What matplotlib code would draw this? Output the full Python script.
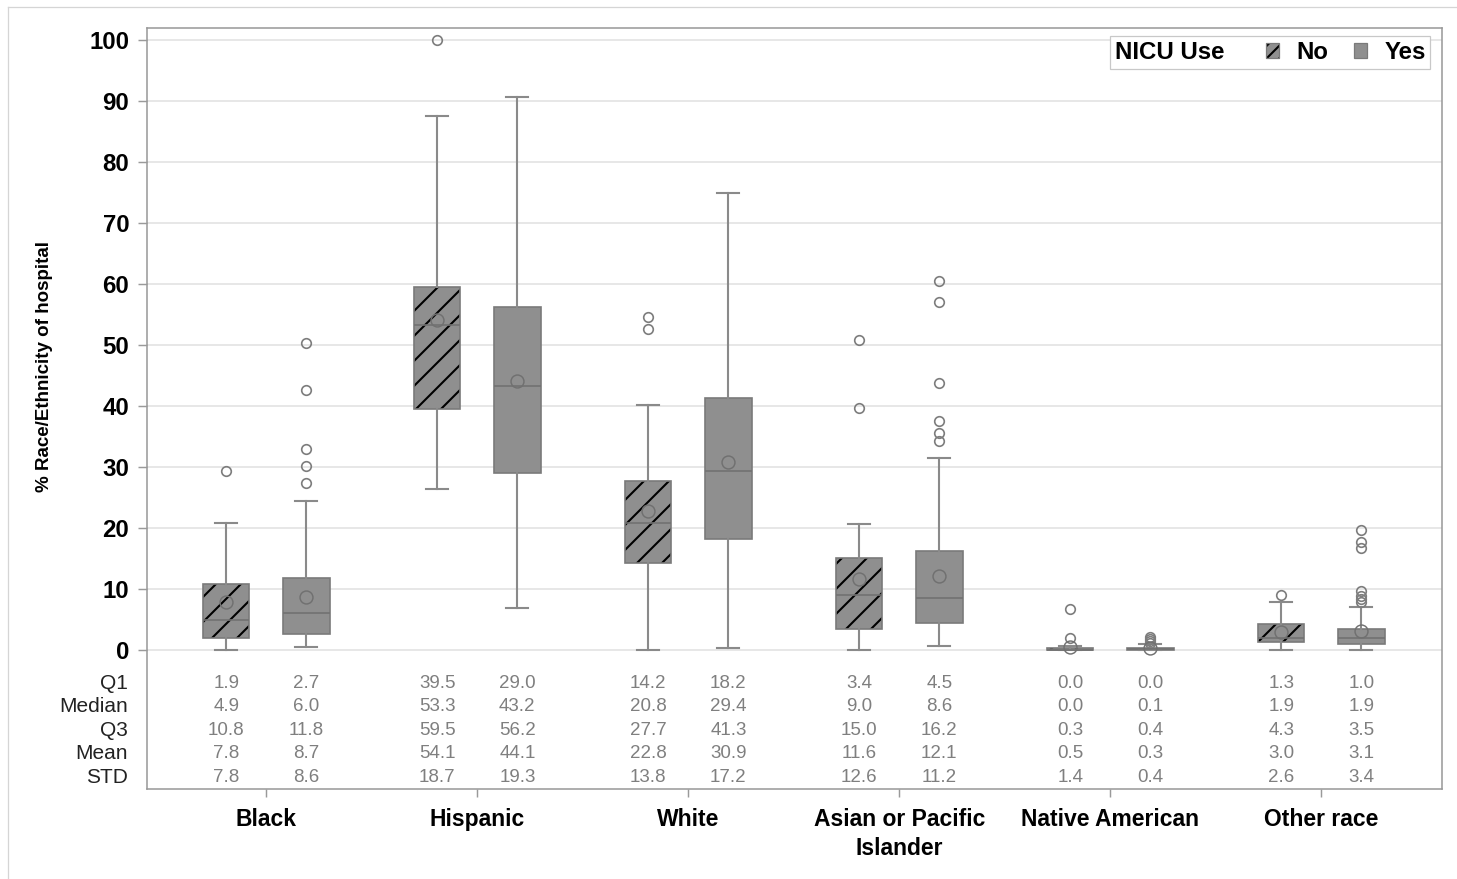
import numpy as np
import matplotlib
matplotlib.use("Agg")
import matplotlib.pyplot as plt
import matplotlib.colors as mcolors
from matplotlib.patches import Patch
from matplotlib.lines import Line2D
from matplotlib.offsetbox import HPacker
from matplotlib.transforms import blended_transform_factory

plt.rcParams['font.family'] = ['Liberation Sans', 'DejaVu Sans']
plt.rcParams['hatch.linewidth'] = 1.0

# data
categories = ['Black', 'Hispanic', 'White', 'Asian or Pacific\nIslander',
              'Native American', 'Other race']

no_q1 = [1.9, 39.5, 14.2, 3.4, 0.0, 1.3]
no_med = [4.9, 53.3, 20.8, 9.0, 0.0, 1.9]
no_q3 = [10.8, 59.5, 27.7, 15.0, 0.3, 4.3]
no_mean = [7.8, 54.1, 22.8, 11.6, 0.5, 3.0]
no_std = [7.8, 18.7, 13.8, 12.6, 1.4, 2.6]
no_lo = [0.0, 26.4, 0.0, 0.0, 0.0, 0.0]
no_hi = [20.8, 87.5, 40.2, 20.7, 0.7, 7.8]
no_out = [[29.3], [100.0], [52.7, 54.6], [39.6, 50.9], [1.9, 6.7], [9.0]]

yes_q1 = [2.7, 29.0, 18.2, 4.5, 0.0, 1.0]
yes_med = [6.0, 43.2, 29.4, 8.6, 0.1, 1.9]
yes_q3 = [11.8, 56.2, 41.3, 16.2, 0.4, 3.5]
yes_mean = [8.7, 44.1, 30.9, 12.1, 0.3, 3.1]
yes_std = [8.6, 19.3, 17.2, 11.2, 0.4, 3.4]
yes_lo = [0.5, 6.9, 0.3, 0.7, 0.0, 0.0]
yes_hi = [24.4, 90.7, 74.9, 31.5, 0.9, 7.1]
yes_out = [[27.4, 30.2, 32.9, 42.7, 50.3], [], [],
           [34.2, 35.6, 37.5, 43.7, 57.0, 60.5],
           [1.2, 1.5, 1.8, 2.1],
           [7.8, 8.3, 8.9, 9.7, 16.7, 17.7, 19.7]]

row_names = ['Q1', 'Median', 'Q3', 'Mean', 'STD']
row_y = [-5.45, -9.3, -13.15, -17.0, -20.85]

BOX_FILL = '#8f8f8f'
BOX_EDGE = '#7a7a7a'
LINE_C = '#8a8a8a'


def make_stats(q1, med, q3, mean, lo, hi, out):
    stats = []
    for i in range(len(q1)):
        stats.append(dict(q1=q1[i], med=med[i], q3=q3[i], mean=mean[i],
                          whislo=lo[i], whishi=hi[i], fliers=np.array(out[i])))
    return stats


fig = plt.figure(figsize=(1457 / 150, 879 / 150), dpi=150)
ax = fig.add_axes([147 / 1457, 1 - 789 / 879, 1295 / 1457, 761 / 879])

x = np.arange(len(categories))
off = 0.19
common = dict(widths=0.22, patch_artist=True, showmeans=True, capwidths=0.105,
              manage_ticks=False,
              boxprops=dict(facecolor=BOX_FILL, edgecolor=BOX_EDGE, linewidth=0.8),
              whiskerprops=dict(color=LINE_C, linewidth=1.0),
              capprops=dict(color=LINE_C, linewidth=1.0),
              medianprops=dict(color='#727272', linewidth=0.8),
              meanprops=dict(marker='o', markerfacecolor='none',
                             markeredgecolor='#707070', markersize=6.2,
                             markeredgewidth=0.7),
              flierprops=dict(marker='o', markerfacecolor='none',
                              markeredgecolor='#7d7d7d', markersize=4.6,
                              markeredgewidth=0.8))

bp_no = ax.bxp(make_stats(no_q1, no_med, no_q3, no_mean, no_lo, no_hi, no_out),
               positions=x - off, **common)
bp_yes = ax.bxp(make_stats(yes_q1, yes_med, yes_q3, yes_mean, yes_lo, yes_hi, yes_out),
                positions=x + off, **common)

for b in bp_no['boxes']:
    b.set_hatch('//')
    b._hatch_color = mcolors.to_rgba('black')

# stats table under the boxes
for i in range(len(categories)):
    for rows, xp in ((
            [no_q1, no_med, no_q3, no_mean, no_std], x[i] - off),
            ([yes_q1, yes_med, yes_q3, yes_mean, yes_std], x[i] + off)):
        for r, yv in zip(rows, row_y):
            ax.text(xp, yv, f'{r[i]:.1f}', ha='center', va='center',
                    color='#7f7f7f', fontsize=9)

trans = blended_transform_factory(ax.transAxes, ax.transData)
for name, yv in zip(row_names, row_y):
    ax.text(-0.0147, yv, name, transform=trans, ha='right', va='center',
            color='#222222', fontsize=10)

ax.set_xlim(-0.565, 5.572)
ax.set_ylim(-22.79, 101.97)
ax.set_yticks(range(0, 101, 10))
ax.set_xticks(x)
ax.set_xticklabels(categories, fontweight='bold', fontsize=11, linespacing=1.3)
for lab in ax.get_yticklabels():
    lab.set_fontweight('bold')
    lab.set_fontsize(11.5)
ax.tick_params(axis='y', length=4.5, color='#9a9a9a', width=0.7, pad=4)
ax.tick_params(axis='x', length=3.8, color='#9a9a9a', width=0.7, pad=5.5)

ax.yaxis.grid(True, color='#e6e6e6', linewidth=0.9)
ax.set_axisbelow(True)
for s in ax.spines.values():
    s.set_color('#999999')
    s.set_linewidth(0.75)

ax.set_ylabel('% Race/Ethnicity of hospital', fontsize=9, fontweight='bold')
ax.yaxis.set_label_coords(-0.0726, 0.555)

# legend laid out in one row with the title on the left
h_no = Patch(facecolor=BOX_FILL, edgecolor=BOX_EDGE, hatch='////', linewidth=0.6)
h_no._hatch_color = mcolors.to_rgba('black')
h_yes = Patch(facecolor=BOX_FILL, edgecolor=BOX_EDGE, linewidth=0.6)
leg = ax.legend([h_no, h_yes], ['No', 'Yes'], title='NICU Use', ncol=2,
                loc='upper right', bbox_to_anchor=(0.991, 0.989),
                borderaxespad=0, prop=dict(weight='bold', size=11.5),
                title_fontproperties=dict(weight='bold', size=11.5),
                handlelength=0.55, handleheight=0.55, handletextpad=0.7,
                columnspacing=1.1, borderpad=0.2, fancybox=False,
                framealpha=1, edgecolor='#c8c8c8')
leg.get_frame().set_linewidth(0.6)
leg._legend_box.__class__ = HPacker
leg._legend_box.sep = 20

# outer frame of the exported figure
fig.add_artist(Line2D([8 / 1457, 8 / 1457], [0, 1 - 7 / 879], transform=fig.transFigure,
                      color='#d5d5d5', linewidth=0.6))
fig.add_artist(Line2D([8 / 1457, 1], [1 - 7 / 879, 1 - 7 / 879], transform=fig.transFigure,
                      color='#d5d5d5', linewidth=0.6))

fig.savefig('out.png', dpi=150)
